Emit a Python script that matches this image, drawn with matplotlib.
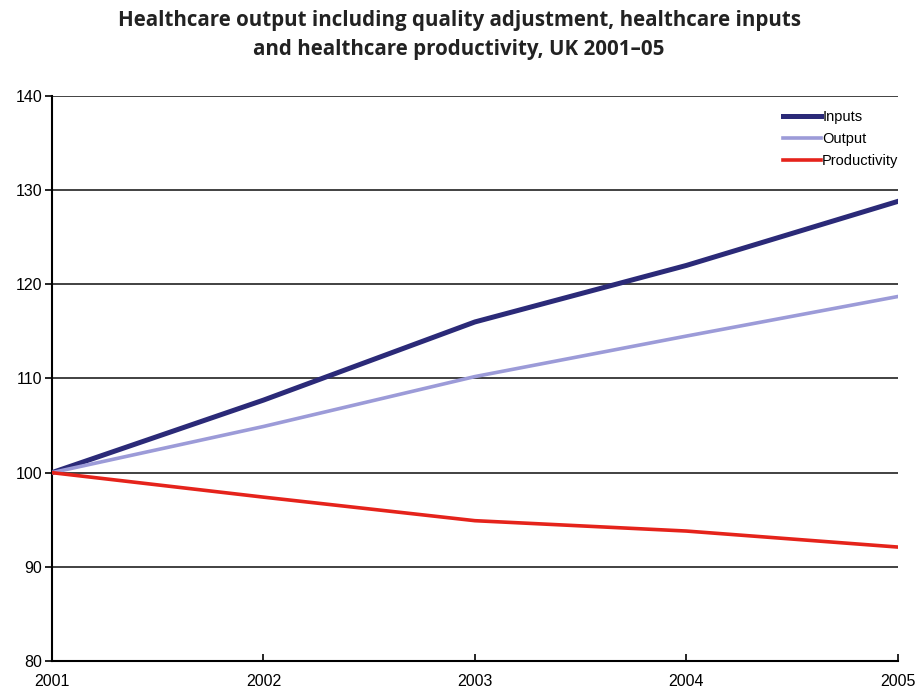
import matplotlib
matplotlib.use("Agg")
import matplotlib.pyplot as plt

years = [2001, 2002, 2003, 2004, 2005]
inputs = [100, 107.7, 116.0, 122.0, 128.8]
output = [100, 104.9, 110.2, 114.5, 118.7]
productivity = [100, 97.4, 94.9, 93.8, 92.1]
yticks = [80, 90, 100, 110, 120, 130, 140]

fig = plt.figure(figsize=(9.18, 6.9), dpi=100)
ax = fig.add_axes([0.0566, 0.042, 0.9214, 0.819])

# gridlines
for y in yticks[1:]:
    ax.axhline(y, color='#333333', lw=1.3, zorder=1)

ax.plot(years, inputs, color='#2B2A78', lw=3.6, label='Inputs', zorder=3)
ax.plot(years, output, color='#9C9BD8', lw=2.6, label='Output', zorder=3)
ax.plot(years, productivity, color='#E5231B', lw=2.6, label='Productivity', zorder=3)

ax.set_xlim(2001, 2005)
ax.set_ylim(80, 140)
ax.set_xticks(years)
ax.set_yticks(yticks)
for s in ['top', 'right']:
    ax.spines[s].set_visible(False)
ax.spines['left'].set_linewidth(1.5)
ax.spines['bottom'].set_linewidth(1.5)
ax.tick_params(axis='y', direction='out', length=5, width=1.2, labelsize=11.5, pad=2)
ax.tick_params(axis='x', direction='in', length=5, width=1.2, labelsize=11.5, pad=9)
for lab in ax.get_xticklabels() + ax.get_yticklabels():
    lab.set_fontfamily('Liberation Sans')

leg = ax.legend(loc='upper right', frameon=False, handlelength=2.6,
                handletextpad=0.1, labelspacing=0.55, borderaxespad=0.3,
                bbox_to_anchor=(1.013, 0.993), prop={'family': 'Liberation Sans', 'size': 10.5})

fig.text(0.5, 0.985, 'Healthcare output including quality adjustment, healthcare inputs\nand healthcare productivity, UK 2001\u201305',
         ha='center', va='top', fontsize=14.8, fontweight='bold', family='Open Sans',
         linespacing=1.5, color='#222222')

plt.savefig('out.png', dpi=100)
